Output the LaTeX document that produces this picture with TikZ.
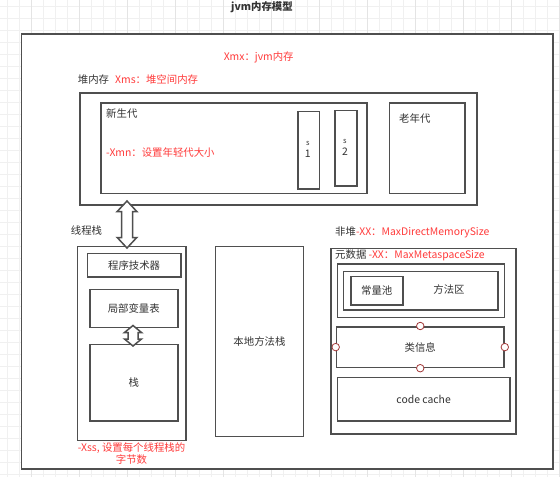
\documentclass[tikz,border=0pt]{standalone}
\usepackage{fontspec}
\setmainfont{Noto Sans CJK SC}
\usetikzlibrary{calc}
\definecolor{edge}{HTML}{4F4F4F}
\definecolor{ink}{HTML}{333333}
\definecolor{warn}{HTML}{FF3B3B}
\definecolor{gridminor}{HTML}{F0F0F0}
\definecolor{gridmajor}{HTML}{E4E4E4}
\definecolor{portred}{HTML}{A33A3A}
\tikzset{
  box/.style={draw=edge, line width=1.5pt, fill=white, rectangle, inner sep=0pt, anchor=north west},
  lbl/.style={text=ink, font=\fontsize{10.4}{12}\selectfont, inner sep=0pt},
  note/.style={text=warn, font=\fontsize{10.4}{12}\selectfont, inner sep=0pt},
  arrowbox/.style={draw=edge, line width=1.5pt, fill=white, line join=miter},
  port/.style={circle, draw=portred, fill=white, line width=0.8pt, minimum size=7.5pt, inner sep=0pt},
}
% hollow double-headed block arrow between two named points on one vertical
\newcommand\dblblock[5]{%
  \draw[arrowbox] let \p1=(#1), \p2=(#2) in
    (\x1,\y1) -- (\x1+#4,\y1-#5) -- (\x1+#3,\y1-#5) -- (\x1+#3,\y2+#5)
    -- (\x1+#4,\y2+#5) -- (\x1,\y2) -- (\x1-#4,\y2+#5) -- (\x1-#3,\y2+#5)
    -- (\x1-#3,\y1-#5) -- (\x1-#4,\y1-#5) -- cycle;}
\newcommand\boxat[5]{% name, left, top, width, height
  \node[box, minimum width=#4pt, minimum height=#5pt] (#1) at (#2,#3) {};}
\begin{document}
\begin{tikzpicture}[x=1pt, y=-1pt]
  \useasboundingbox (0,0) rectangle (560,477);
  % canvas grid
  \foreach \gx in {0,...,46} {
    \pgfmathsetmacro\xx{7.3+12*\gx}
    \draw[gridminor, line width=0.7pt] (\xx,0) -- (\xx,477);
  }
  \foreach \gy in {0,...,39} {
    \pgfmathsetmacro\yy{6+12*\gy}
    \draw[gridminor, line width=0.7pt] (0,\yy) -- (560,\yy);
  }
  \foreach \gx in {0,...,11} {
    \pgfmathsetmacro\xx{31.3+48*\gx}
    \draw[gridmajor, line width=0.7pt] (\xx,0) -- (\xx,477);
  }

  \node[lbl, font=\fontsize{10.4}{12}\selectfont\bfseries] (title) at (262,7) {jvm内存模型};

  % whole JVM memory
  \boxat{jvm}{20.7}{33}{531.5}{435}
  \node[note] (xmx) at (258.7,57) {Xmx：jvm内存};

  % heap
  \node[lbl, anchor=west] (heaplbl) at (77.7,80) {堆内存};
  \node[note, anchor=west] (xms) at (115,80) {Xms：堆空间内存};
  \boxat{heap}{79.3}{92}{396.7}{112}
  \boxat{young}{100}{102}{266}{90.7}
  \node[lbl, anchor=west] (younglbl) at (106,113.3) {新生代};
  \node[note, anchor=west] (xmn) at (106,152.3) {-Xmn：设置年轻代大小};
  \boxat{sa}{297}{110.7}{21.7}{77.3}
  \boxat{sb}{334}{109.7}{22}{75.3}
  \node[lbl, align=center, font=\fontsize{10.4}{12.5}\selectfont] (salbl) at (307.8,149.5) {\fontsize{7.5}{8}\selectfont s\\1};
  \node[lbl, align=center, font=\fontsize{10.4}{12.5}\selectfont] (sblbl) at (345,147.5) {\fontsize{7.5}{8}\selectfont s\\2};
  \boxat{old}{388.7}{102}{75.3}{90.7}
  \node[lbl, anchor=west] (oldlbl) at (399,118.7) {老年代};

  % thread stack
  \node[lbl, anchor=west] (tslbl) at (70.7,231) {线程栈};
  \boxat{thread}{76.7}{245.7}{108.6}{194}
  \boxat{pc}{86.7}{252.7}{93.3}{23.6}
  \node[lbl] at (pc.center) {程序技术器};
  \boxat{locals}{89}{288.7}{88}{38}
  \node[lbl] at (locals.center) {局部变量表};
  \boxat{stack}{89}{343.7}{88}{76.3}
  \node[lbl] at (stack.center) {栈};
  \node[note, align=center, font=\fontsize{10.4}{11.5}\selectfont] (xss) at (131.5,453.3) {-Xss, 设置每个线程栈的\\字节数};

  % native method stack
  \boxat{native}{214.7}{245.7}{88}{190}
  \node[lbl] at (native.center) {本地方法栈};

  % non-heap / metaspace
  \node[lbl, anchor=west] (nonheap) at (335,232.7) {非堆\textcolor{warn}{-XX：MaxDirectMemorySize}};
  \boxat{meta}{330}{247.7}{185.3}{185.6}
  \node[lbl, anchor=west] (metalbl) at (335,255.7) {元数据 \textcolor{warn}{-XX：MaxMetaspaceSize}};
  \boxat{mouter}{336.7}{263.3}{167}{53.4}
  \boxat{minner}{342.7}{270.7}{154.6}{38.6}
  \boxat{pool}{350}{275.7}{52}{28.6}
  \node[lbl] at (pool.center) {常量池};
  \node[lbl] (malbl) at (449,290) {方法区};
  \boxat{klass}{335.7}{326}{167.6}{40.7}
  \node[lbl] at (klass.center) {类信息};
  \foreach \a in {north,south,east,west} \node[port] at (klass.\a) {};
  \boxat{cache}{336.7}{376.7}{172.3}{43.6}
  \node[lbl] at (cache.center) {code cache};

  % block arrows
  \coordinate (ha) at (127,201);
  \coordinate (hb) at (127,248);
  \dblblock{ha}{hb}{5.5pt}{9.8pt}{10.5pt}
  \coordinate (la) at (133,325.5);
  \coordinate (lb) at (133,346);
  \dblblock{la}{lb}{5pt}{8.5pt}{7pt}
\end{tikzpicture}
\end{document}
